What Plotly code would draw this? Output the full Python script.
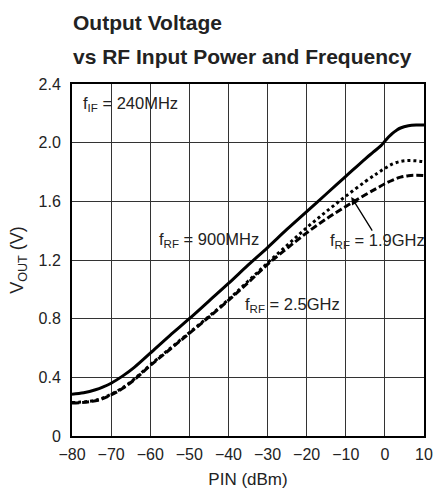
import plotly.graph_objects as go

# ---- data ----
pin_900 = [-80, -77, -74, -72, -70, -67, -64, -60, -55, -50, -45, -40, -35, -30, -25, -20, -15, -10, -5, -3, -1, 0, 1, 2, 3, 4, 6, 8, 10]
vout_900 = [0.285, 0.295, 0.315, 0.335, 0.36, 0.41, 0.47, 0.565, 0.685, 0.80, 0.92, 1.04, 1.165, 1.285, 1.41, 1.53, 1.65, 1.77, 1.89, 1.935, 1.98, 2.01, 2.04, 2.065, 2.085, 2.10, 2.115, 2.12, 2.12]

pin_19 = [-80, -76, -73, -70, -67, -64, -60, -55, -50, -45, -40, -35, -30, -25, -20, -15, -10, -5, -2, 0, 2, 4, 6, 8, 10]
vout_19 = [0.228, 0.235, 0.25, 0.285, 0.33, 0.39, 0.485, 0.595, 0.705, 0.815, 0.93, 1.055, 1.18, 1.30, 1.42, 1.53, 1.635, 1.735, 1.79, 1.825, 1.855, 1.872, 1.878, 1.876, 1.87]

pin_25 = [-80, -76, -73, -70, -67, -64, -60, -55, -50, -45, -40, -35, -30, -25, -20, -15, -10, -5, -2, 0, 2, 4, 6, 8, 10]
vout_25 = [0.225, 0.232, 0.247, 0.28, 0.325, 0.385, 0.48, 0.59, 0.70, 0.81, 0.925, 1.045, 1.17, 1.28, 1.385, 1.48, 1.565, 1.645, 1.69, 1.72, 1.745, 1.765, 1.775, 1.778, 1.775]

x_ticks = [-80, -70, -60, -50, -40, -30, -20, -10, 0, 10]
y_ticks = [0, 0.4, 0.8, 1.2, 1.6, 2.0, 2.4]
y_tick_text = ["0", "0.4", "0.8", "1.2", "1.6", "2.0", "2.4"]

FONT = "Liberation Sans, Arial, Helvetica, sans-serif"
INK = "#222"

fig = go.Figure()
fig.add_trace(go.Scatter(x=pin_25, y=vout_25, mode="lines", line=dict(color="black", width=3, dash="7px,3px", shape="spline"), showlegend=False, hoverinfo="skip"))
fig.add_trace(go.Scatter(x=pin_19, y=vout_19, mode="lines", line=dict(color="black", width=3, dash="dot", shape="spline"), showlegend=False, hoverinfo="skip"))
fig.add_trace(go.Scatter(x=pin_900, y=vout_900, mode="lines", line=dict(color="black", width=3, shape="spline"), showlegend=False, hoverinfo="skip"))

ann_font = dict(family=FONT, size=16.5, color=INK)
title_font = dict(family=FONT, size=21, color=INK)
annotations = [
    dict(text="<b>Output Voltage</b>", xref="paper", yref="paper", x=-0.003, y=1.176, xanchor="left", yanchor="middle", showarrow=False, font=title_font),
    dict(text="<b>vs RF Input Power and Frequency</b>", xref="paper", yref="paper", x=-0.003, y=1.077, xanchor="left", yanchor="middle", showarrow=False, font=title_font),
    dict(text="f<sub>IF</sub> = 240MHz", xref="x", yref="y", x=-77.7, y=2.263, xanchor="left", yanchor="middle", showarrow=False, font=ann_font),
    dict(text="f<sub>RF</sub> = 900MHz", xref="x", yref="y", x=-58.3, y=1.336, xanchor="left", yanchor="middle", showarrow=False, font=ann_font),
    dict(text="f<sub>RF</sub> = 1.9GHz", xref="x", yref="y", x=-14.5, y=1.33, xanchor="left", yanchor="middle", showarrow=False, font=ann_font),
    dict(text="f<sub>RF</sub> = 2.5GHz", xref="x", yref="y", x=-36.3, y=0.893, xanchor="left", yanchor="middle", showarrow=False, font=ann_font),
    dict(text="", xref="x", yref="y", x=-8.6, y=1.63, ax=-3.0, ay=1.39, axref="x", ayref="y", showarrow=True, arrowhead=2, arrowsize=1.2, arrowwidth=1.3, arrowcolor="black"),
]

fig.update_layout(
    width=433, height=490,
    margin=dict(l=72, r=9, t=84, b=54, autoexpand=False),
    paper_bgcolor="white", plot_bgcolor="white",
    font=dict(family=FONT, size=16, color=INK),
    annotations=annotations,
    hovermode=False,
    xaxis=dict(range=[-80, 10], tickvals=x_ticks, showgrid=True, gridcolor="#333", gridwidth=1.3,
               showline=True, linecolor="black", linewidth=2, mirror=True, zeroline=False, automargin=False,
               ticks="outside", ticklen=3, tickcolor="rgba(0,0,0,0)",
               title=dict(text="PIN (dBm)", font=dict(family=FONT, size=17, color=INK), standoff=11),
               tickfont=dict(family=FONT, size=16, color=INK)),
    yaxis=dict(range=[0, 2.4], tickvals=y_ticks, ticktext=y_tick_text, showgrid=True, gridcolor="#333", gridwidth=1.3,
               showline=True, linecolor="black", linewidth=2, mirror=True, zeroline=False, automargin=False,
               ticks="outside", ticklen=6, tickcolor="rgba(0,0,0,0)",
               title=dict(text="V<sub>OUT</sub> (V)", font=dict(family=FONT, size=18, color=INK), standoff=10),
               tickfont=dict(family=FONT, size=16, color=INK)),
)

fig.write_html("out.html", config={"displayModeBar": False, "responsive": False},
               post_script="document.body.style.margin='0';document.body.style.overflow='hidden';")
